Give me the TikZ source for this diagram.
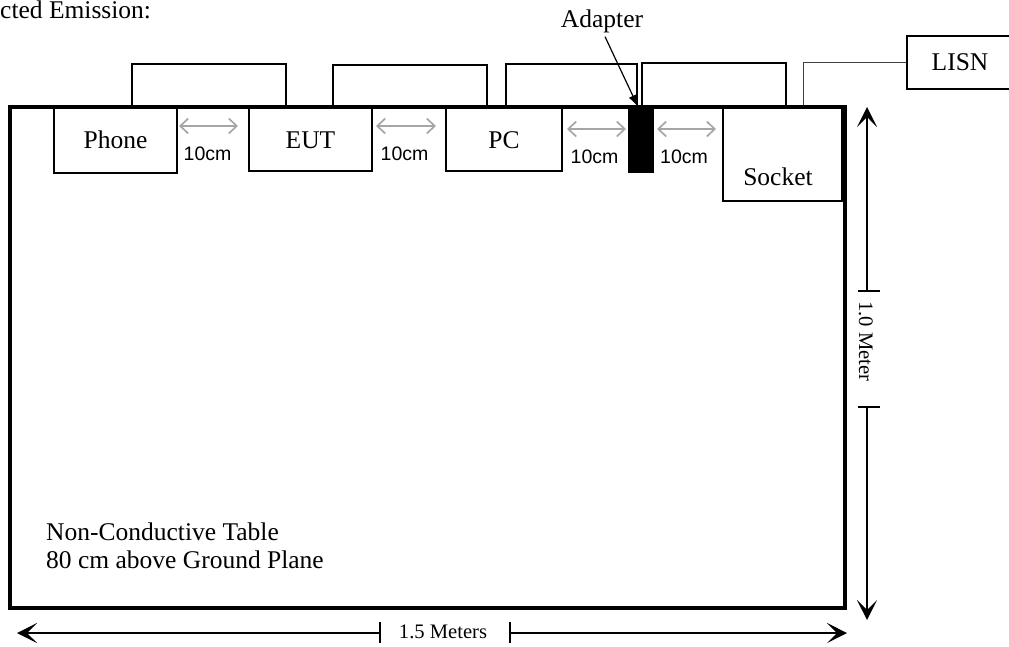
\documentclass[tikz,border=0pt]{standalone}
\usepackage{fontspec}
\setmainfont{Liberation Serif}
\newfontfamily\arialf{Liberation Sans}
\usetikzlibrary{arrows.meta}
\tikzset{
  devbox/.style={draw, line width=1.8pt, inner sep=0pt},
  lbl/.style={font=\fontsize{25.5}{28}\selectfont, anchor=base, inner sep=0pt},
  dimlbl/.style={font=\fontsize{20.6}{22}\selectfont, anchor=base, inner sep=0pt},
  cmlbl/.style={font=\arialf\fontsize{19.5}{21}\selectfont, anchor=base, inner sep=0pt},
  cable/.style={line width=1.8pt},
  gap/.style={draw=gray!70, line width=1.7pt, {Straight Barb[length=8pt,width=15pt]}-{Straight Barb[length=8pt,width=15pt]}},
  dimline/.style={line width=1.5pt},
  bigtip/.style={-{Stealth[length=20pt,width=20pt,inset=10pt]}},
}
\begin{document}
\begin{tikzpicture}[x=1pt,y=-1pt]
\useasboundingbox (0,0) rectangle (1009,646);
\clip (0,0) rectangle (1009,646);

% title fragment
\node[lbl, anchor=base west] (title) at (0,18) {cted Emission:};

% cables (behind)
\draw[cable] (132,107) |- (286,64) -- (286,107);
\draw[cable] (333,107) |- (487,65) -- (487,107);
\draw[cable] (506,107) |- (637,64) -- (637,107);
\draw[cable] (642,107) |- (786,63) -- (786,107);

% LISN
\node[devbox, line width=1.5pt, minimum width=106, minimum height=53] (lisn) at (960,62.5) {};
\node[lbl] (lisnt) at (960,70) {LISN};
\coordinate (lisnfeed) at (803,107);
\draw[line width=1pt, black!75] (lisnfeed) |- (lisn.west);

% table
\node[draw, line width=4pt, minimum width=835, minimum height=501, inner sep=0pt] (table) at (427.5,357.5) {};

% devices
\node[devbox, minimum width=123, minimum height=66] (phone) at (115.5,140) {};
\node[lbl] (phonet) at (115.5,148) {Phone};
\node[devbox, minimum width=123, minimum height=64] (eut) at (310.5,139) {};
\node[lbl] (eutt) at (310.5,148) {EUT};
\node[devbox, minimum width=116, minimum height=64] (pc) at (504,139) {};
\node[lbl] (pct) at (504,148) {PC};
\node[fill=black, minimum width=26, minimum height=66, inner sep=0pt] (adapter) at (641,140) {};
\node[devbox, minimum width=119, minimum height=94] (socket) at (782.5,154) {};
\node[lbl] (sockett) at (778,185) {Socket};

% adapter label
\node[lbl] (adlbl) at (602,27) {Adapter};
\draw[line width=1.2pt, -{Latex[length=12pt,width=9pt]}] ([xshift=3pt,yshift=-4pt]adlbl.south) -- ([xshift=-3pt]adapter.north);

% 10 cm gaps
\draw[gap] (179,126) -- (238,126);
\node[cmlbl] at (207.5,160) {10cm};
\draw[gap] (376,126) -- (436,126);
\node[cmlbl] at (404.5,160) {10cm};
\draw[gap] (567,129) -- (626,129);
\node[cmlbl] at (594.5,163) {10cm};
\draw[gap] (657,129) -- (716,129);
\node[cmlbl] at (684,163) {10cm};

% table text
\node[lbl, anchor=base west] (t1) at (46,540) {Non-Conductive Table};
\node[lbl, anchor=base west] (t2) at (46,568) {80 cm above Ground Plane};

% vertical dimension
\coordinate (vtop) at (867,107);
\coordinate (vbot) at (867,620);
\draw[dimline, bigtip] (867,291) -- (vtop);
\draw[dimline] (858,291) -- (880,291);
\node[dimlbl, rotate=-90] (vlbl) at (859,341.5) {1.0 Meter};
\draw[dimline] (858,407) -- (880,407);
\draw[dimline, bigtip] (867,407) -- (vbot);

% horizontal dimension
\coordinate (hleft) at (17,633);
\coordinate (hright) at (847,633);
\draw[dimline, bigtip] (380,633) -- (hleft);
\draw[dimline] (380,622) -- (380,643);
\node[dimlbl] (hlbl) at (443,638) {1.5 Meters};
\draw[dimline] (510,622) -- (510,643);
\draw[dimline, bigtip] (510,633) -- (hright);
\end{tikzpicture}
\end{document}
